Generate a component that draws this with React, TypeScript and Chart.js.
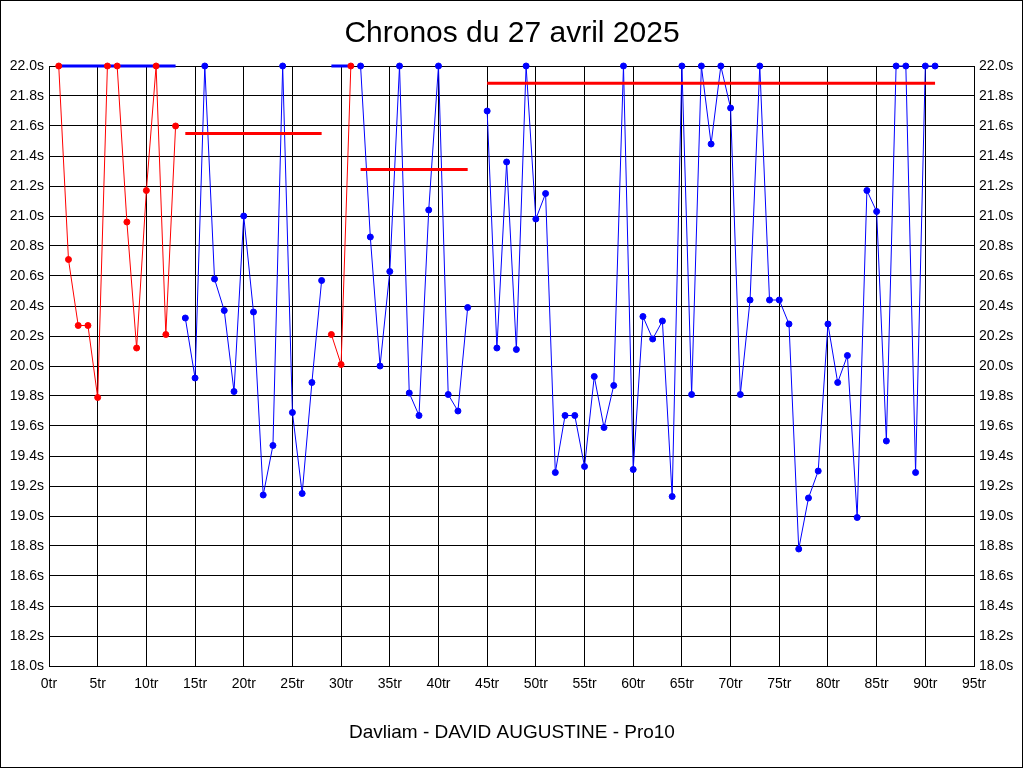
import React, { useEffect, useRef } from "react";
import { Chart, registerables } from "chart.js";

Chart.register(...registerables);

const TITLE = "Chronos du 27 avril 2025";
const SUBTITLE = "Davliam - DAVID AUGUSTINE - Pro10";

// Lap groups (laps number) and lap times in seconds
const laps1 = [1, 2, 3, 4, 5, 6, 7, 8, 9, 10, 11, 12, 13];
const times1 = [22.0, 20.71, 20.27, 20.27, 19.79, 22.0, 22.0, 20.96, 20.12, 21.17, 22.0, 20.21, 21.6];

const laps2 = [14, 15, 16, 17, 18, 19, 20, 21, 22, 23, 24, 25, 26, 27, 28];
const times2 = [20.32, 19.92, 22.0, 20.58, 20.37, 19.83, 21.0, 20.36, 19.14, 19.47, 22.0, 19.69, 19.15, 19.89, 20.57];

const laps3 = [29, 30, 31];
const times3 = [20.21, 20.01, 22.0];

const laps4 = [32, 33, 34, 35, 36, 37, 38, 39, 40, 41, 42, 43];
const times4 = [22.0, 20.86, 20.0, 20.63, 22.0, 19.82, 19.67, 21.04, 22.0, 19.81, 19.7, 20.39];

const laps5 = [45, 46, 47, 48, 49, 50, 51, 52, 53, 54, 55, 56, 57, 58, 59, 60, 61, 62, 63, 64, 65, 66, 67, 68, 69, 70, 71, 72, 73, 74, 75, 76, 77, 78, 79, 80, 81, 82, 83, 84, 85, 86, 87, 88, 89, 90, 91];
const times5 = [21.7, 20.12, 21.36, 20.11, 22.0, 20.98, 21.15, 19.29, 19.67, 19.67, 19.33, 19.93, 19.59, 19.87, 22.0, 19.31, 20.33, 20.18, 20.3, 19.13, 22.0, 19.81, 22.0, 21.48, 22.0, 21.72, 19.81, 20.44, 22.0, 20.44, 20.44, 20.28, 18.78, 19.12, 19.3, 20.28, 19.89, 20.07, 18.99, 21.17, 21.03, 19.5, 22.0, 22.0, 19.29, 22.0, 22.0];

// Reference levels per group
const levelStarts = [1, 14, 29, 32, 45];
const levelEnds = [13, 28, 31, 43, 91];
const levelValues = [22.0, 21.55, 22.0, 21.31, 21.885];
const levelColors = ["#0000ff", "#ff0000", "#0000ff", "#ff0000", "#ff0000"];

const groupLaps = [laps1, laps2, laps3, laps4, laps5];
const groupTimes = [times1, times2, times3, times4, times5];
const groupColors = ["#ff0000", "#0000ff", "#ff0000", "#0000ff", "#0000ff"];

const X_MIN = 0;
const X_MAX = 95;
const X_STEP = 5;
const Y_MIN = 18;
const Y_MAX = 22;
const Y_STEP = 0.2;

const FONT = "'Liberation Sans', Arial, sans-serif";

export default function App() {
  const ref = useRef<HTMLCanvasElement | null>(null);

  useEffect(() => {
    const canvas = ref.current;
    if (!canvas) return;

    const toPts = (xs: number[], ys: number[]) => xs.map((x, i) => ({ x, y: ys[i] }));

    const pointSets = groupLaps.map((xs, g) => ({
      type: "line" as const,
      data: toPts(xs, groupTimes[g]),
      showLine: false,
      clip: false,
      pointRadius: 3,
      pointBorderWidth: 1,
      pointBackgroundColor: groupColors[g],
      pointBorderColor: groupColors[g],
      borderColor: groupColors[g],
      backgroundColor: groupColors[g],
    }));

    const levelSets = levelStarts.map((s, i) => ({
      type: "line" as const,
      data: [
        { x: s, y: levelValues[i] },
        { x: levelEnds[i], y: levelValues[i] },
      ],
      clip: false,
      borderColor: levelColors[i],
      borderWidth: 3,
      borderCapStyle: "butt",
      pointRadius: 0,
      fill: false,
    }));

    const lineSets = groupLaps.map((xs, g) => ({
      type: "line" as const,
      data: toPts(xs, groupTimes[g]),
      clip: false,
      borderColor: groupColors[g],
      borderWidth: 1,
      pointRadius: 0,
      tension: 0,
      fill: false,
    }));

    const decor = {
      id: "decor",
      afterDraw(chart: any) {
        const ctx = chart.ctx;
        ctx.save();
        ctx.fillStyle = "#000";
        ctx.textAlign = "center";
        ctx.textBaseline = "middle";
        ctx.font = `30px ${FONT}`;
        ctx.fillText(TITLE, 512, 34);
        ctx.font = `19px ${FONT}`;
        ctx.fillText(SUBTITLE, 512, 733);
        ctx.strokeStyle = "#000";
        ctx.lineWidth = 1;
        ctx.strokeRect(0.5, 0.5, 1022, 767);
        ctx.restore();
      },
    };

    const tickFont = { family: FONT, size: 14 };

    const chart = new Chart(canvas, {
      type: "line",
      data: { datasets: [...pointSets, ...levelSets, ...lineSets] as any },
      options: {
        responsive: false,
        animation: false,
        layout: { padding: { top: 66, left: 0, right: 0, bottom: 0 } },
        plugins: {
          legend: { display: false },
          tooltip: { enabled: false },
          title: { display: false },
        },
        scales: {
          x: {
            type: "linear",
            min: X_MIN,
            max: X_MAX,
            afterFit: (s: any) => {
              s.height = 102;
            },
            grid: { color: "#000", lineWidth: 1, drawTicks: false },
            border: { color: "#000" },
            ticks: {
              stepSize: X_STEP,
              autoSkip: false,
              maxRotation: 0,
              padding: 10,
              color: "#000",
              font: tickFont,
              callback: (v: any) => `${v}tr`,
            },
          },
          y: {
            type: "linear",
            position: "left",
            min: Y_MIN,
            max: Y_MAX,
            afterFit: (s: any) => {
              s.width = 49;
            },
            grid: { color: "#000", lineWidth: 1, drawTicks: false },
            border: { color: "#000" },
            ticks: {
              stepSize: Y_STEP,
              autoSkip: false,
              padding: 5,
              color: "#000",
              font: tickFont,
              callback: (v: any) => `${Number(v).toFixed(1)}s`,
            },
          },
          y2: {
            type: "linear",
            position: "right",
            min: Y_MIN,
            max: Y_MAX,
            afterFit: (s: any) => {
              s.width = 50;
            },
            grid: { display: false, drawTicks: false },
            border: { color: "#000" },
            ticks: {
              stepSize: Y_STEP,
              autoSkip: false,
              padding: 5,
              color: "#000",
              font: tickFont,
              callback: (v: any) => `${Number(v).toFixed(1)}s`,
            },
          },
        },
      } as any,
      plugins: [decor],
    });

    return () => chart.destroy();
  }, []);

  return (
    <div style={{ position: "fixed", left: 0, top: 0, width: 1024, height: 768, background: "#fff" }}>
      <canvas ref={ref} width={1024} height={768} style={{ display: "block", width: 1024, height: 768 }} />
    </div>
  );
}
